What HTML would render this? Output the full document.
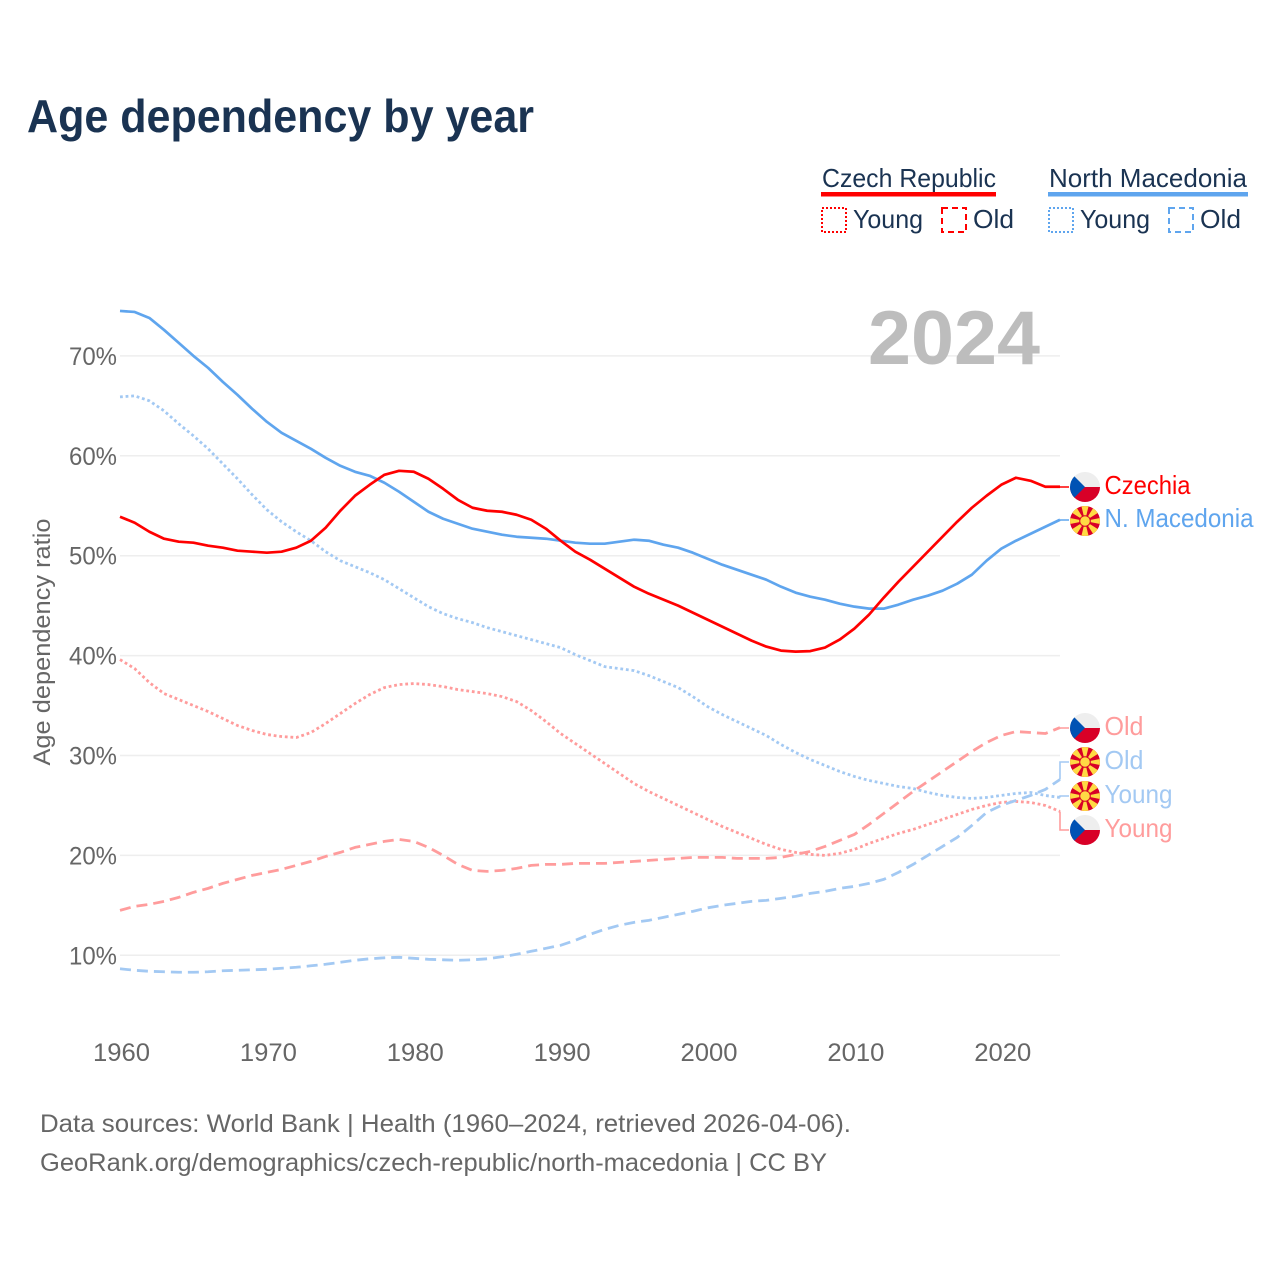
<!DOCTYPE html>
<html lang="en">
<head>
<meta charset="utf-8">
<title>Age dependency by year</title>
<style>
html,body{margin:0;padding:0;background:#fff}
svg{display:block}
text{font-family:"Liberation Sans",sans-serif}
</style>
</head>
<body>
<svg id="chart" xmlns="http://www.w3.org/2000/svg" width="1280" height="1280" viewBox="0 0 1280 1280">
  <defs>
    <clipPath id="flag-clip"><circle cx="0" cy="0" r="15"/></clipPath>
    <g id="flag-cz" clip-path="url(#flag-clip)">
      <rect x="-15" y="-15" width="30" height="30" fill="#eeeeee"/>
      <rect x="-15" y="0" width="30" height="15" fill="#d80027"/>
      <polygon points="-15,-15 0,0 -15,15" fill="#0052b4"/>
    </g>
    <g id="flag-mk" clip-path="url(#flag-clip)">
      <rect x="-15" y="-15" width="30" height="30" fill="#d80027"/>
      <polygon points="-3.6,-15 3.6,-15 0,0" fill="#ffda44"/>
      <polygon points="-3.6,15 3.6,15 0,0" fill="#ffda44"/>
      <polygon points="-15,-3 -15,3 0,0" fill="#ffda44"/>
      <polygon points="15,-3 15,3 0,0" fill="#ffda44"/>
      <polygon points="-13.5,-8.5 -8.5,-13.5 0,0" fill="#ffda44"/>
      <polygon points="13.5,-8.5 8.5,-13.5 0,0" fill="#ffda44"/>
      <polygon points="-13.5,8.5 -8.5,13.5 0,0" fill="#ffda44"/>
      <polygon points="13.5,8.5 8.5,13.5 0,0" fill="#ffda44"/>
      <circle cx="0" cy="0" r="5.8" fill="#d80027"/>
      <circle cx="0" cy="0" r="4.8" fill="#ffda44"/>
    </g>
  </defs>

  <text x="27" y="132" font-size="46" font-weight="700" fill="#1a3352" textLength="507" lengthAdjust="spacingAndGlyphs">Age dependency by year</text>

  <g>
    <g>
      <text x="822" y="187" font-size="26" fill="#1a3352" textLength="174" lengthAdjust="spacingAndGlyphs">Czech Republic</text>
      <rect x="821" y="192" width="175" height="4.5" fill="#ff0000"/>
      <rect x="822" y="208" width="24" height="24" fill="none" stroke="#ff0000" stroke-width="2" stroke-dasharray="2 2"/>
      <text x="853" y="228" font-size="26" fill="#1a3352" textLength="70" lengthAdjust="spacingAndGlyphs">Young</text>
      <rect x="942" y="208" width="24" height="24" fill="none" stroke="#ff0000" stroke-width="2" stroke-dasharray="6 4"/>
      <text x="973" y="228" font-size="26" fill="#1a3352" textLength="41" lengthAdjust="spacingAndGlyphs">Old</text>
    </g>
    <g>
      <text x="1049" y="187" font-size="26" fill="#1a3352" textLength="198" lengthAdjust="spacingAndGlyphs">North Macedonia</text>
      <rect x="1048" y="192" width="200" height="4.5" fill="#5fa5ee"/>
      <rect x="1049" y="208" width="24" height="24" fill="none" stroke="#5fa5ee" stroke-width="2" stroke-dasharray="2 2"/>
      <text x="1080" y="228" font-size="26" fill="#1a3352" textLength="70" lengthAdjust="spacingAndGlyphs">Young</text>
      <rect x="1169" y="208" width="24" height="24" fill="none" stroke="#5fa5ee" stroke-width="2" stroke-dasharray="6 4"/>
      <text x="1200" y="228" font-size="26" fill="#1a3352" textLength="41" lengthAdjust="spacingAndGlyphs">Old</text>
    </g>
  </g>

  <g id="grid"></g>
  <g id="x-ticks"></g>
  <g id="y-ticks"></g>
  <text transform="translate(50 642) rotate(-90)" text-anchor="middle" font-size="24" fill="#666666" textLength="247" lengthAdjust="spacingAndGlyphs">Age dependency ratio</text>

  <text x="868" y="364" font-size="76" font-weight="700" fill="#bdbdbd" textLength="172" lengthAdjust="spacingAndGlyphs">2024</text>

  <g id="series"></g>
  <g id="connectors"></g>

  <g>
    <use href="#flag-cz" x="1085" y="487"/>
    <text x="1104.5" y="494" font-size="26" fill="#ff0000" textLength="86" lengthAdjust="spacingAndGlyphs">Czechia</text>
    <use href="#flag-mk" x="1085" y="521"/>
    <text x="1104.5" y="527" font-size="26" fill="#5fa5ee" textLength="149" lengthAdjust="spacingAndGlyphs">N. Macedonia</text>
    <use href="#flag-cz" x="1085" y="728"/>
    <text x="1104.5" y="735" font-size="26" fill="#ff9c9c" textLength="39" lengthAdjust="spacingAndGlyphs">Old</text>
    <use href="#flag-mk" x="1085" y="762"/>
    <text x="1104.5" y="769" font-size="26" fill="#a3c9f3" textLength="39" lengthAdjust="spacingAndGlyphs">Old</text>
    <use href="#flag-mk" x="1085" y="796"/>
    <text x="1104.5" y="803" font-size="26" fill="#a3c9f3" textLength="68" lengthAdjust="spacingAndGlyphs">Young</text>
    <use href="#flag-cz" x="1085" y="830"/>
    <text x="1104.5" y="837" font-size="26" fill="#ff9c9c" textLength="68" lengthAdjust="spacingAndGlyphs">Young</text>
  </g>

  <text x="40" y="1132" font-size="25" fill="#666666" textLength="811" lengthAdjust="spacingAndGlyphs">Data sources: World Bank | Health (1960–2024, retrieved 2026-04-06).</text>
  <a><text x="40" y="1171" font-size="25" fill="#666666" textLength="787" lengthAdjust="spacingAndGlyphs">GeoRank.org/demographics/czech-republic/north-macedonia | CC BY</text></a>
</svg>

<script>
var startYear = 1960;
var xTickLabels = [1960, 1970, 1980, 1990, 2000, 2010, 2020];
var yTickValues = [10, 20, 30, 40, 50, 60, 70];

var czechTotal = [53.9,53.3,52.4,51.7,51.4,51.3,51.0,50.8,50.5,50.4,50.3,50.4,50.8,51.5,52.8,54.5,56.0,57.1,58.1,58.5,58.4,57.7,56.7,55.6,54.8,54.5,54.4,54.1,53.6,52.7,51.5,50.4,49.6,48.7,47.8,46.9,46.2,45.6,45.0,44.3,43.6,42.9,42.2,41.5,40.9,40.5,40.4,40.45,40.8,41.6,42.7,44.1,45.8,47.4,48.9,50.4,51.9,53.4,54.8,56.0,57.1,57.8,57.5,56.9,56.9];
var macedoniaTotal = [74.5,74.4,73.8,72.6,71.3,70.0,68.8,67.4,66.1,64.7,63.4,62.3,61.5,60.7,59.8,59.0,58.4,58.0,57.3,56.4,55.4,54.4,53.7,53.2,52.7,52.4,52.1,51.9,51.8,51.7,51.5,51.3,51.2,51.2,51.4,51.6,51.5,51.1,50.8,50.3,49.7,49.1,48.6,48.1,47.6,46.9,46.3,45.9,45.6,45.2,44.9,44.7,44.7,45.1,45.6,46.0,46.5,47.2,48.1,49.5,50.7,51.5,52.2,52.9,53.6];
var macedoniaYoung = [65.9,66.0,65.5,64.5,63.2,62.0,60.7,59.2,57.7,56.1,54.6,53.4,52.4,51.5,50.4,49.5,48.9,48.3,47.6,46.7,45.8,44.9,44.2,43.7,43.3,42.8,42.4,42.0,41.6,41.2,40.8,40.1,39.5,38.9,38.7,38.5,38.0,37.4,36.8,35.9,34.9,34.1,33.4,32.7,32.0,31.1,30.3,29.6,29.0,28.4,27.9,27.5,27.2,26.9,26.7,26.3,26.0,25.8,25.7,25.8,26.0,26.2,26.3,26.0,25.8];
var czechYoung = [39.6,38.7,37.3,36.2,35.6,35.0,34.4,33.7,33.0,32.5,32.1,31.9,31.8,32.3,33.2,34.2,35.2,36.1,36.8,37.1,37.2,37.1,36.9,36.6,36.4,36.2,35.9,35.4,34.5,33.4,32.2,31.2,30.2,29.2,28.2,27.2,26.4,25.7,25.0,24.3,23.6,22.9,22.3,21.7,21.1,20.6,20.3,20.1,20.0,20.2,20.6,21.2,21.7,22.2,22.6,23.1,23.6,24.1,24.6,25.0,25.3,25.4,25.3,25.0,24.4];
var czechOld = [14.5,14.9,15.1,15.4,15.8,16.3,16.7,17.2,17.6,18.0,18.3,18.6,19.0,19.4,19.9,20.3,20.8,21.1,21.4,21.6,21.4,20.8,20.0,19.1,18.5,18.4,18.5,18.7,19.0,19.1,19.1,19.2,19.2,19.2,19.3,19.4,19.5,19.6,19.7,19.8,19.8,19.8,19.7,19.7,19.7,19.8,20.1,20.4,20.9,21.5,22.1,23.1,24.2,25.3,26.4,27.4,28.4,29.4,30.4,31.3,32.0,32.4,32.3,32.2,32.8];
var macedoniaOld = [8.65,8.5,8.4,8.35,8.3,8.3,8.35,8.45,8.5,8.55,8.6,8.7,8.8,8.95,9.1,9.3,9.5,9.65,9.75,9.8,9.7,9.6,9.55,9.5,9.55,9.65,9.85,10.1,10.4,10.7,11.0,11.5,12.1,12.6,13.0,13.3,13.5,13.8,14.1,14.4,14.75,15.0,15.2,15.4,15.5,15.7,15.9,16.2,16.4,16.7,16.9,17.2,17.6,18.3,19.1,20.0,20.9,21.8,23.0,24.3,25.0,25.5,26.0,26.6,27.6];

var SVGNS = 'http://www.w3.org/2000/svg';
function xScale(year) { return 120 + (year - 1960) * (940 / 64); }
function yScale(v) { return 1055.2 - v * 9.99; }
function make(tag, parent) {
  var el = document.createElementNS(SVGNS, tag);
  parent.appendChild(el);
  return el;
}

var gridGroup = document.getElementById('grid');
var yGroup = document.getElementById('y-ticks');
var xGroup = document.getElementById('x-ticks');

yTickValues.forEach(function (v) {
  var line = make('line', gridGroup);
  
  
  line.setAttribute('x1', 120);
  line.setAttribute('x2', 1060);
  line.setAttribute('y1', yScale(v));
  line.setAttribute('y2', yScale(v));
  line.setAttribute('stroke', '#eeeeee');
  line.setAttribute('stroke-width', 1.5);

  var label = make('text', yGroup);
  
  
  label.setAttribute('x', 69);
  label.setAttribute('y', yScale(v) + 9);
  label.setAttribute('font-size', 25);
  label.setAttribute('fill', '#666666');
  label.setAttribute('textLength', 48);
  label.setAttribute('lengthAdjust', 'spacingAndGlyphs');
  label.textContent = v + '%';
});

xTickLabels.forEach(function (year) {
  var label = make('text', xGroup);
  
  
  label.setAttribute('x', xScale(year) - 27);
  label.setAttribute('y', 1061);
  label.setAttribute('font-size', 25);
  label.setAttribute('fill', '#666666');
  label.setAttribute('textLength', 57);
  label.setAttribute('lengthAdjust', 'spacingAndGlyphs');
  label.textContent = year;
});

function drawSeries(values, name, color, width, dash) {
  var path = make('path', document.getElementById('series'));
  
  
  var d = values.map(function (v, i) {
    return (i ? 'L' : 'M') + xScale(startYear + i).toFixed(2) + ' ' + yScale(v).toFixed(2);
  }).join('');
  path.setAttribute('d', d);
  path.setAttribute('fill', 'none');
  path.setAttribute('stroke', color);
  path.setAttribute('stroke-width', width);
  path.setAttribute('stroke-linejoin', 'round');
  if (dash) path.setAttribute('stroke-dasharray', dash);
}

drawSeries(macedoniaYoung, 'line-macedonia-young', '#a3c9f3', 2.8, '2.8 2.8');
drawSeries(czechYoung, 'line-czechia-young', '#ff9c9c', 2.8, '2.8 2.8');
drawSeries(czechOld, 'line-czechia-old', '#ff9c9c', 2.8, '11 6');
drawSeries(macedoniaOld, 'line-macedonia-old', '#a3c9f3', 2.8, '11 6');
drawSeries(macedoniaTotal, 'line-macedonia-total', '#5fa5ee', 2.7, null);
drawSeries(czechTotal, 'line-czechia-total', '#ff0000', 2.7, null);

function drawConnector(values, labelY, name, color) {
  var path = make('path', document.getElementById('connectors'));
  
  
  var endY = yScale(values[values.length - 1]);
  path.setAttribute('d', 'M1060 ' + endY.toFixed(2) + 'L1060 ' + labelY + 'L1069 ' + labelY);
  path.setAttribute('fill', 'none');
  path.setAttribute('stroke', color);
  path.setAttribute('stroke-width', 1.6);
}

drawConnector(czechTotal, 487, 'connector-czechia-total', '#ff0000');
drawConnector(macedoniaTotal, 520, 'connector-macedonia-total', '#5fa5ee');
drawConnector(czechOld, 728, 'connector-czechia-old', '#ff9c9c');
drawConnector(macedoniaOld, 762, 'connector-macedonia-old', '#a3c9f3');
drawConnector(macedoniaYoung, 796, 'connector-macedonia-young', '#a3c9f3');
drawConnector(czechYoung, 830, 'connector-czechia-young', '#ff9c9c');
</script>
</body>
</html>
